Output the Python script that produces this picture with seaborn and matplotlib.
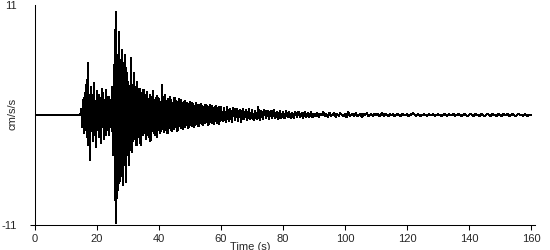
import numpy as np
import pandas as pd
import matplotlib
matplotlib.use("Agg")
import matplotlib.pyplot as plt
import seaborn as sns

# Pre-event quiet part: 0.0 - 14.5 s, one sample every 0.5 s (cm/s/s)
pre_event = [0.05, -0.05] * 15

# Strong motion: 15.0 - 59.75 s, one sample every 0.25 s (cm/s/s)
strong = [
    0.6, -1.2, 1.5, -1.8,   2.2, -1.5, 3.0, -2.2,   5.2, -3.0, 2.0, -4.5,
    2.8, -1.6, 2.0, -2.6,   3.2, -2.0, 1.4, -3.2,   2.4, -1.5, 2.0, -2.2,
    1.6, -2.8, 2.6, -1.2,   2.2, -2.4, 1.5, -2.0,   2.5, -1.4, 1.8, -2.0,
    1.8, -1.2, 1.5, -1.6,   2.8, -4.0, 5.0, -8.5,   10.3, -10.8, 6.0, -7.5,
    8.3, -6.8, 5.5, -6.0,   6.5, -7.0, 5.2, -5.0,   6.0, -6.7, 4.7, -4.0,
    3.3, -5.0, 2.9, -3.5,   5.7, -3.7, 3.0, -2.6,   4.2, -2.4, 2.8, -3.0,
    3.3, -2.2, 2.6, -2.8,   2.6, -3.0, 2.2, -2.0,   2.5, -1.8, 2.0, -2.4,
    2.3, -2.0, 1.6, -2.2,   2.0, -2.6, 1.8, -1.6,   2.4, -1.8, 1.5, -2.0,
    1.7, -2.2, 1.9, -1.5,   1.6, -1.8, 1.3, -1.6,   3.0, -1.4, 1.8, -1.7,
    2.0, -1.5, 1.4, -1.8,   1.6, -1.3, 1.8, -1.5,   1.5, -1.6, 1.2, -1.4,
    1.7, -1.2, 1.4, -1.6,   1.3, -1.5, 1.6, -1.1,   1.5, -1.3, 1.2, -1.4,
    1.3, -1.2, 1.4, -1.0,   1.2, -1.3, 1.1, -1.2,   1.3, -1.0, 1.2, -1.1,
    1.1, -1.2, 0.9, -1.0,   1.2, -0.9, 1.0, -1.1,   1.0, -0.8, 1.1, -0.9,
    0.9, -1.0, 0.8, -0.8,   1.0, -0.7, 0.9, -1.0,   0.8, -0.9, 1.0, -0.7,
    0.9, -0.8, 0.7, -0.9,   0.8, -0.6, 0.9, -0.8,   0.7, -0.9, 0.8, -0.6,
]

# Decay: 60.0 - 89.5 s, one sample every 0.5 s (cm/s/s)
decay = [
    0.8, -0.6, 0.7, -0.7, 0.8, -0.6, 0.6, -0.7, 0.7, -0.5,
    0.6, -0.6, 0.5, -0.7, 0.6, -0.4, 0.5, -0.5, 0.6, -0.4,
    0.5, -0.5, 0.4, -0.4, 0.8, -0.5, 0.4, -0.4, 0.5, -0.3,
    0.4, -0.4, 0.4, -0.3, 0.5, -0.3, 0.3, -0.4, 0.4, -0.3,
    0.3, -0.3, 0.4, -0.2, 0.3, -0.3, 0.2, -0.3, 0.3, -0.2,
    0.3, -0.2, 0.2, -0.3, 0.3, -0.2, 0.2, -0.2, 0.3, -0.2,
]

# Coda: 90.0 - 160.0 s, one sample every 0.5 s (cm/s/s)
coda = [
    0.1, -0.1, 0.2, -0.2, 0.1, 0.0, 0.3, -0.1, 0.1, -0.2,
    0.2, -0.1, 0.0, 0.2, -0.2, 0.1, -0.1, 0.2, 0.0, -0.1,
    0.1, -0.2, 0.3, -0.1, 0.0, 0.1, -0.1, 0.2, -0.1, 0.0,
    0.1, -0.2, 0.1, 0.0, 0.2, -0.1, 0.0, 0.1, -0.1, 0.1,
    0.0, 0.1, -0.1, 0.0, 0.2, -0.1, 0.1, 0.0, -0.1, 0.1,
    0.0, 0.1, -0.1, 0.0, 0.1, 0.0, -0.1, 0.1, 0.0, 0.0,
    0.1, -0.1, 0.0, 0.1, 0.2, 0.0, -0.1, 0.1, 0.0, -0.1,
    0.0, 0.1, 0.0, -0.1, 0.1, 0.0, 0.0, 0.1, -0.1, 0.0,
    0.1, 0.0, -0.1, 0.0, 0.1, 0.0, -0.1, 0.1, 0.0, 0.0,
    0.1, -0.1, 0.0, 0.1, 0.0, -0.1, 0.0, 0.1, 0.0, -0.1,
    0.0, 0.1, 0.0, -0.1, 0.1, 0.0, 0.0, -0.1, 0.1, 0.0,
    -0.1, 0.0, 0.1, 0.0, -0.1, 0.1, 0.0, 0.0, -0.1, 0.1,
    0.0, -0.1, 0.1, 0.0, 0.0, 0.1, -0.1, 0.0, 0.1, 0.0,
    -0.1, 0.0, 0.1, 0.0, 0.0, -0.1, 0.1, 0.0, -0.1, 0.0,
    0.0,
]

# (start time s, sample interval s, values) for each segment of the record
segments = [(0.0, 0.5, pre_event), (15.0, 0.25, strong),
            (60.0, 0.5, decay), (90.0, 0.5, coda)]

x_ticks = [0, 20, 40, 60, 80, 100, 120, 140, 160]
y_ticks = [-11, 11]
x_label = "Time (s)"
y_label = "cm/s/s"

time = np.concatenate([t0 + step * np.arange(len(v)) for t0, step, v in segments])
accel = np.concatenate([v for _, _, v in segments])
df = pd.DataFrame({"time": time, "accel": accel})

sns.set_style("white")
plt.rcParams["font.family"] = ["Liberation Sans", "DejaVu Sans"]

fig = plt.figure(figsize=(5.5, 2.5), dpi=100)
ax = fig.add_axes([35 / 550, 25 / 250, 500 / 550, 220 / 250])

sns.lineplot(data=df, x="time", y="accel", ax=ax, color="black",
             linewidth=0.75, estimator=None, sort=False, antialiased=False)

ax.set_xlim(0, 161.3)
ax.set_ylim(-11, 11)
ax.set_xticks(x_ticks)
ax.set_xticklabels([str(v) for v in x_ticks])
ax.set_yticks(y_ticks)
ax.set_yticklabels([str(v) for v in y_ticks])

for s in ["top", "right"]:
    ax.spines[s].set_visible(False)
for s in ["left", "bottom"]:
    ax.spines[s].set_color("black")
    ax.spines[s].set_linewidth(0.75)

ax.tick_params(axis="x", direction="out", length=3.6, width=0.75, color="black",
               labelsize=8, pad=3.2, bottom=True)
ax.tick_params(axis="y", direction="out", length=3.6, width=0.75, color="black",
               labelsize=8, pad=9.4, left=True)
ax.yaxis.get_major_ticks()[1].tick1line.set_visible(False)

ax.set_xlabel("")
ax.set_ylabel("")
ax.text(0.43, -0.075, x_label, transform=ax.transAxes, ha="center", va="top",
        fontsize=8)
fig.text(12.5 / 550, 1 - 114 / 250, y_label, rotation=90, ha="center",
         va="center", fontsize=8)

fig.savefig("out.png", dpi=100)
